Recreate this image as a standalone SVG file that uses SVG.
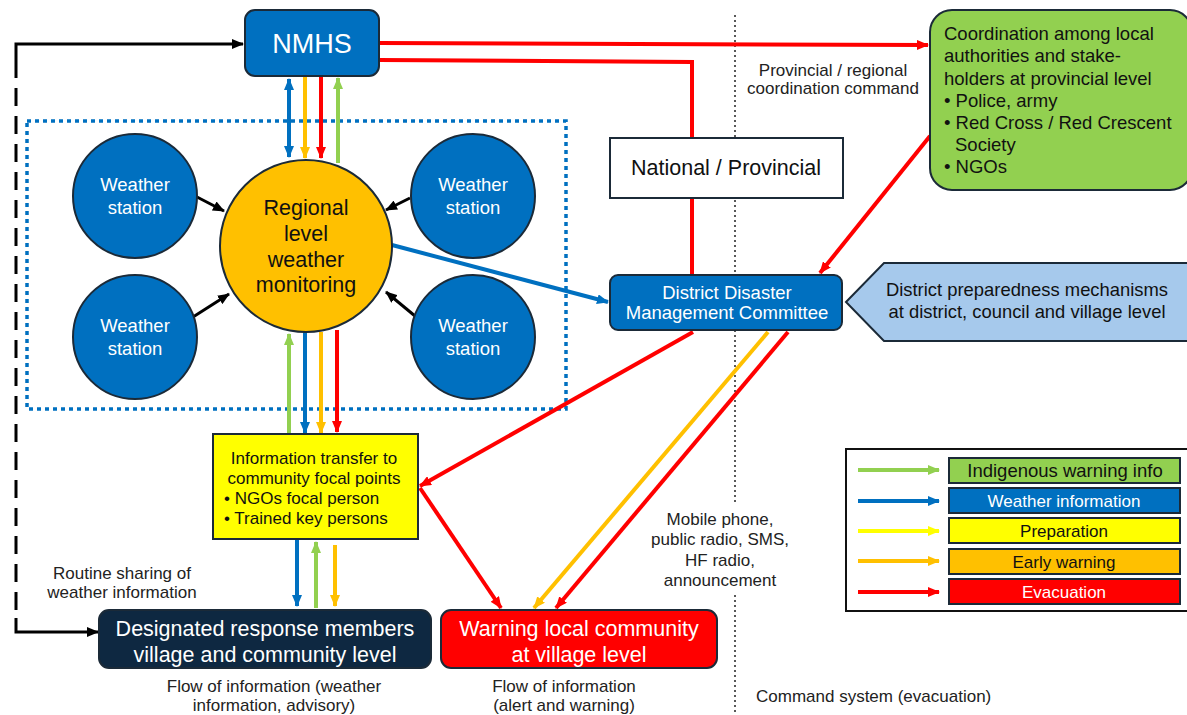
<svg xmlns="http://www.w3.org/2000/svg" width="1187" height="715" viewBox="0 0 1187 715">
  <defs>
    <marker id="ah-red" viewBox="0 0 12 10" refX="11" refY="5" markerWidth="12" markerHeight="10" markerUnits="userSpaceOnUse" orient="auto-start-reverse"><path d="M0,0 L12,5 L0,10 Z" fill="#FF0000"/></marker>
    <marker id="ah-blue" viewBox="0 0 12 10" refX="11" refY="5" markerWidth="12" markerHeight="10" markerUnits="userSpaceOnUse" orient="auto-start-reverse"><path d="M0,0 L12,5 L0,10 Z" fill="#0070C0"/></marker>
    <marker id="ah-orange" viewBox="0 0 12 10" refX="11" refY="5" markerWidth="12" markerHeight="10" markerUnits="userSpaceOnUse" orient="auto-start-reverse"><path d="M0,0 L12,5 L0,10 Z" fill="#FFC000"/></marker>
    <marker id="ah-green" viewBox="0 0 12 10" refX="11" refY="5" markerWidth="12" markerHeight="10" markerUnits="userSpaceOnUse" orient="auto-start-reverse"><path d="M0,0 L12,5 L0,10 Z" fill="#92D050"/></marker>
    <marker id="ah-yellow" viewBox="0 0 12 10" refX="11" refY="5" markerWidth="12" markerHeight="10" markerUnits="userSpaceOnUse" orient="auto-start-reverse"><path d="M0,0 L12,5 L0,10 Z" fill="#FFFF00"/></marker>
    <marker id="ah-black" viewBox="0 0 12 10" refX="11" refY="5" markerWidth="12" markerHeight="10" markerUnits="userSpaceOnUse" orient="auto-start-reverse"><path d="M0,0 L12,5 L0,10 Z" fill="#000"/></marker>
  </defs>
  <style>
    text { font-family: "Liberation Sans", Arial, sans-serif; }
    .node { stroke: #1B2A38; stroke-width: 2; }
    .wx { fill: #0070C0; stroke: #1B2A38; stroke-width: 2; }
    .w { fill: #FFFFFF; }
    .k { fill: #111111; }
    .c { text-anchor: middle; }
    .red { stroke: #FF0000; stroke-width: 4; fill: none; }
    .blue { stroke: #0070C0; stroke-width: 4; fill: none; }
    .orange { stroke: #FFC000; stroke-width: 4; fill: none; }
    .green { stroke: #92D050; stroke-width: 4; fill: none; }
    .yellow { stroke: #FFFF00; stroke-width: 4; fill: none; }
    .blk { stroke: #000; stroke-width: 3; fill: none; }
    .lbl { font-size: 17px; fill: #222; }
  </style>

  <rect width="1187" height="715" fill="#FFFFFF"/>

  <!-- divider between information flow and command system -->
  <g id="divider" stroke="#222" stroke-width="1.5" stroke-dasharray="2 3" fill="none">
    <line x1="735" y1="15" x2="735" y2="505"/>
    <line x1="735" y1="595" x2="735" y2="715"/>
  </g>

  <!-- regional monitoring zone -->
  <rect id="zone" x="27" y="121" width="539" height="288" fill="none" stroke="#0070C0" stroke-width="3.5" stroke-dasharray="4 4"/>

  <!-- connectors -->
  <g id="connectors">
    <!-- routine sharing loop -->
    <path class="blk" d="M16,60 L16,44 L243,44" marker-end="url(#ah-black)"/>
    <path class="blk" d="M16,60 L16,620" stroke-dasharray="18 10"/>
    <path class="blk" d="M16,618 L16,632 L98,632" marker-end="url(#ah-black)"/>

    <!-- NMHS to provincial coordination and DDMC -->
    <path class="red" d="M379,43 L928,45" marker-end="url(#ah-red)"/>
    <path class="red" d="M379,60 L692,62 L692,275"/>

    <!-- NMHS <-> regional monitoring -->
    <path class="blue" d="M289,79 L289,157" marker-start="url(#ah-blue)" marker-end="url(#ah-blue)"/>
    <path class="orange" d="M305,77 L305,158" marker-end="url(#ah-orange)"/>
    <path class="red" d="M321,77 L321,158" marker-end="url(#ah-red)"/>
    <path class="green" d="M338,163 L338,78" marker-end="url(#ah-green)"/>

    <!-- weather stations to regional monitoring -->
    <path class="blk" d="M197,197 L224,211" marker-end="url(#ah-black)"/>
    <path class="blk" d="M410,198 L386,210" marker-end="url(#ah-black)"/>
    <path class="blk" d="M193,317 L229,294" marker-end="url(#ah-black)"/>
    <path class="blk" d="M415,316 L386,292" marker-end="url(#ah-black)"/>

    <!-- regional monitoring to DDMC -->
    <path class="blue" d="M392,245 L608,302" marker-end="url(#ah-blue)" stroke-width="3.5"/>

    <!-- regional monitoring <-> information transfer -->
    <path class="green" d="M289,434 L289,334" marker-end="url(#ah-green)"/>
    <path class="blue" d="M305,332 L305,433" marker-end="url(#ah-blue)"/>
    <path class="orange" d="M321,332 L321,433" marker-end="url(#ah-orange)"/>
    <path class="red" d="M337,330 L337,432" marker-end="url(#ah-red)"/>

    <!-- information transfer <-> designated members -->
    <path class="blue" d="M297,540 L297,606" marker-end="url(#ah-blue)"/>
    <path class="green" d="M316,608 L316,542" marker-end="url(#ah-green)"/>
    <path class="orange" d="M335,545 L335,606" marker-end="url(#ah-orange)"/>

    <!-- provincial coordination to DDMC -->
    <path class="red" d="M930,136 L820,273" marker-end="url(#ah-red)"/>

    <!-- DDMC outputs -->
    <path class="red" d="M693,332 L420,486" marker-end="url(#ah-red)"/>
    <path class="red" d="M420,488 L501,608" marker-end="url(#ah-red)"/>
    <path class="orange" d="M768,332 L534,608" marker-end="url(#ah-orange)"/>
    <path class="red" d="M788,332 L556,608" marker-end="url(#ah-red)"/>
  </g>

  <!-- NMHS -->
  <g id="nmhs">
    <rect class="node" x="245" y="10" width="134" height="66" rx="10" fill="#0070C0"/>
    <text class="w c" x="312" y="53" font-size="27">NMHS</text>
  </g>

  <!-- weather stations -->
  <g id="station-tl">
    <circle class="wx" cx="135" cy="196" r="62"/>
    <text class="w c" x="135" y="191" font-size="18.5">Weather</text>
    <text class="w c" x="135" y="214" font-size="18.5">station</text>
  </g>
  <g id="station-tr">
    <circle class="wx" cx="473" cy="196" r="62"/>
    <text class="w c" x="473" y="191" font-size="18.5">Weather</text>
    <text class="w c" x="473" y="214" font-size="18.5">station</text>
  </g>
  <g id="station-bl">
    <circle class="wx" cx="135" cy="337" r="62"/>
    <text class="w c" x="135" y="332" font-size="18.5">Weather</text>
    <text class="w c" x="135" y="355" font-size="18.5">station</text>
  </g>
  <g id="station-br">
    <circle class="wx" cx="473" cy="337" r="62"/>
    <text class="w c" x="473" y="332" font-size="18.5">Weather</text>
    <text class="w c" x="473" y="355" font-size="18.5">station</text>
  </g>

  <!-- regional monitoring -->
  <g id="regional">
    <circle class="node" cx="306" cy="246" r="86" fill="#FFC000"/>
    <text class="k c" x="306" y="215" font-size="21.5">Regional</text>
    <text class="k c" x="306" y="241" font-size="21.5">level</text>
    <text class="k c" x="306" y="267" font-size="21.5">weather</text>
    <text class="k c" x="306" y="292" font-size="21.5">monitoring</text>
  </g>

  <!-- National / Provincial -->
  <g id="national">
    <rect class="node" x="610" y="138" width="233" height="60" fill="#FFFFFF"/>
    <text class="k c" x="726" y="175" font-size="21.5">National / Provincial</text>
  </g>

  <!-- provincial coordination -->
  <g id="coordination">
    <rect class="node" x="930" y="10" width="262" height="180" rx="22" fill="#92D050"/>
    <g class="k" font-size="18.5">
      <text x="944" y="40">Coordination among local</text>
      <text x="944" y="62">authorities and stake-</text>
      <text x="944" y="85">holders at provincial level</text>
      <text x="944" y="107">• Police, army</text>
      <text x="944" y="129">• Red Cross / Red Crescent</text>
      <text x="955" y="151">Society</text>
      <text x="944" y="173">• NGOs</text>
    </g>
  </g>

  <text class="lbl c" x="833" y="76">Provincial / regional</text>
  <text class="lbl c" x="833" y="94">coordination command</text>

  <!-- DDMC -->
  <g id="ddmc">
    <rect class="node" x="610" y="275" width="232" height="55" rx="8" fill="#0070C0"/>
    <text class="w c" x="727" y="299" font-size="18.5">District Disaster</text>
    <text class="w c" x="727" y="319" font-size="18.5">Management Committee</text>
  </g>

  <!-- district preparedness -->
  <g id="preparedness">
    <path class="node" d="M846,302 L884,263 L1192,263 L1192,341 L884,341 Z" fill="#A6C9EC"/>
    <text class="k c" x="1027" y="296" font-size="18.4">District preparedness mechanisms</text>
    <text class="k c" x="1027" y="318" font-size="18.4">at district, council and village level</text>
  </g>

  <!-- information transfer -->
  <g id="info-transfer">
    <rect class="node" x="213" y="434" width="205" height="105" fill="#FFFF00"/>
    <g class="k" font-size="17">
      <text class="c" x="314" y="464">Information transfer to</text>
      <text class="c" x="314" y="484">community focal points</text>
      <text x="224" y="504">• NGOs focal person</text>
      <text x="224" y="524">• Trained key persons</text>
    </g>
  </g>

  <!-- designated response members -->
  <g id="designated">
    <rect class="node" x="99" y="610" width="332" height="58" rx="10" fill="#0E2841"/>
    <text class="w c" x="265" y="636" font-size="21.5">Designated response members</text>
    <text class="w c" x="265" y="662" font-size="21.5">village and community level</text>
  </g>

  <!-- warning local community -->
  <g id="warning">
    <rect class="node" x="441" y="610" width="276" height="58" rx="10" fill="#FF0000"/>
    <text class="w c" x="579" y="636" font-size="21.5">Warning local community</text>
    <text class="w c" x="579" y="662" font-size="21.5">at village level</text>
  </g>

  <!-- free labels -->
  <text class="lbl c" x="122" y="579">Routine sharing of</text>
  <text class="lbl c" x="122" y="598">weather information</text>
  <text class="lbl c" x="720" y="525">Mobile phone,</text>
  <text class="lbl c" x="720" y="545">public radio, SMS,</text>
  <text class="lbl c" x="720" y="566">HF radio,</text>
  <text class="lbl c" x="720" y="586">announcement</text>
  <text class="lbl c" x="274" y="692">Flow of information (weather</text>
  <text class="lbl c" x="274" y="711">information, advisory)</text>
  <text class="lbl c" x="564" y="692">Flow of information</text>
  <text class="lbl c" x="564" y="711">(alert and warning)</text>
  <text class="lbl" x="756" y="702">Command system (evacuation)</text>

  <!-- legend -->
  <g id="legend">
    <rect x="846" y="449" width="345" height="162" fill="#FFFFFF" stroke="#111" stroke-width="2"/>
    <path class="green" d="M858,470 L939,470" marker-end="url(#ah-green)"/>
    <path class="blue" d="M858,501 L939,501" marker-end="url(#ah-blue)"/>
    <path class="yellow" d="M858,531 L939,531" marker-end="url(#ah-yellow)"/>
    <path class="orange" d="M858,561 L939,561" marker-end="url(#ah-orange)"/>
    <path class="red" d="M858,592 L939,592" marker-end="url(#ah-red)"/>
    <rect class="node" x="949" y="458" width="231" height="25" fill="#92D050"/>
    <rect class="node" x="949" y="488" width="231" height="25" fill="#0070C0"/>
    <rect class="node" x="949" y="518" width="231" height="25" fill="#FFFF00"/>
    <rect class="node" x="949" y="549" width="231" height="25" fill="#FFC000"/>
    <rect class="node" x="949" y="579" width="231" height="25" fill="#FF0000"/>
    <text class="k c" x="1065" y="477" font-size="18.5">Indigenous warning info</text>
    <text class="w c" x="1064" y="507" font-size="17">Weather information</text>
    <text class="k c" x="1064" y="537" font-size="17">Preparation</text>
    <text class="k c" x="1064" y="568" font-size="17">Early warning</text>
    <text class="w c" x="1064" y="598" font-size="17">Evacuation</text>
  </g>
</svg>
